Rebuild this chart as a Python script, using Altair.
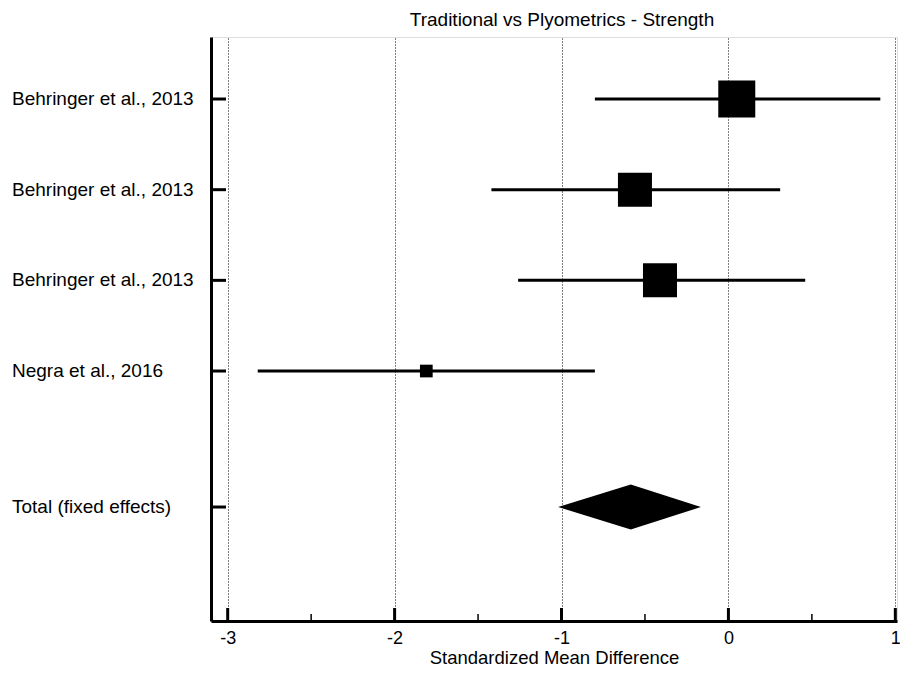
import altair as alt
import pandas as pd

# ---- data ----
studies = ["Behringer et al., 2013", "Behringer et al., 2013",
           "Behringer et al., 2013", "Negra et al., 2016"]
smd = [0.05, -0.56, -0.41, -1.81]
ci_low = [-0.80, -1.42, -1.26, -2.82]
ci_high = [0.91, 0.31, 0.46, -0.80]
weights = [35.6, 30.1, 30.1, 4.2]

total_label = "Total (fixed effects)"
total_smd = -0.585
total_low = -1.02
total_high = -0.165

major_ticks = [-3, -2, -1, 0, 1]
minor_ticks = [-2.5, -1.5, -0.5, 0.5]

title_text = "Traditional vs Plyometrics - Strength"
x_title = "Standardized Mean Difference"

# ---- layout ----
W, H = 686, 584
FONT = "Liberation Sans"
rows = [i + 1 for i in range(len(studies))]
total_row = len(studies) + 1.5
half_h = 0.248

studies_df = pd.DataFrame({"study": studies, "row": rows, "smd": smd,
                           "lo": ci_low, "hi": ci_high, "w": weights})
labels_df = pd.DataFrame({"label": studies + [total_label], "row": rows + [total_row]})
diamond_df = pd.DataFrame({
    "x": [total_low, total_smd, total_high],
    "y": [total_row, total_row - half_h, total_row],
    "y2": [total_row, total_row + half_h, total_row],
})
major_df = pd.DataFrame({"v": major_ticks})
minor_df = pd.DataFrame({"v": minor_ticks})

x_scale = alt.Scale(domain=[-3.1, 1.01], nice=False, zero=False)
y_scale = alt.Scale(domain=[0.316, 6.757], reverse=True, nice=False, zero=False)

x_axis = alt.Axis(values=major_ticks,
                  labelExpr="datum.value < 0 ? '-' + abs(datum.value) : '' + datum.value",
                  grid=True, gridDash=[1, 2],
                  gridColor="black", gridWidth=1, gridOpacity=1,
                  ticks=False, tickSize=0, domainWidth=3, domainColor="black",
                  labelFont=FONT, labelFontSize=18, labelColor="black", labelPadding=8,
                  title=x_title, titleFont=FONT, titleFontSize=18.5, titleFontWeight="normal",
                  titleColor="black", titlePadding=1)
y_axis = alt.Axis(labels=False, ticks=False, grid=False, domainWidth=3,
                  domainColor="black", title=None)

X = lambda f: alt.X(f, type="quantitative", scale=x_scale, axis=x_axis)
Y = lambda f: alt.Y(f, type="quantitative", scale=y_scale, axis=y_axis)

ci = alt.Chart(studies_df).mark_rule(color="black", strokeWidth=3).encode(
    x=X("lo"), x2="hi", y=Y("row"))

squares = alt.Chart(studies_df).mark_square(color="black", filled=True, opacity=1).encode(
    x=X("smd"), y=Y("row"),
    size=alt.Size("w:Q", scale=alt.Scale(domain=[0, 35.6], range=[0, 1369]), legend=None))

diamond = alt.Chart(diamond_df).mark_area(color="black", orient="vertical", opacity=1).encode(
    x=X("x"), y=Y("y"), y2="y2")

ytick = alt.Chart(labels_df).mark_rule(color="black", strokeWidth=3).encode(
    y=Y("row"), x=alt.value(0), x2=alt.value(15))

ylabels = alt.Chart(labels_df).mark_text(align="left", baseline="middle", font=FONT,
                                          fontSize=19, color="black").encode(
    y=Y("row"), x=alt.value(-199), text="label:N")

major = alt.Chart(major_df).mark_rule(color="black", strokeWidth=3).encode(
    x=X("v"), y=alt.value(H), y2=alt.value(H - 13))
minor = alt.Chart(minor_df).mark_rule(color="black", strokeWidth=1.5).encode(
    x=X("v"), y=alt.value(H), y2=alt.value(H - 7))

title = alt.Chart(pd.DataFrame({"t": [title_text]})).mark_text(
    align="center", baseline="middle", font=FONT, fontSize=19, color="black").encode(
    x=alt.value(351), y=alt.value(-17), text="t:N")

chart = alt.layer(ci, squares, diamond, ytick, ylabels, major, minor, title).properties(
    width=W, height=H,
    autosize=alt.AutoSizeParams(type="none"),
    padding={"left": 203, "top": 29, "right": 3, "bottom": 48},
).configure_view(stroke=None).configure(background="white")

chart.save("out.html", embed_options={"renderer": "svg", "actions": False})
